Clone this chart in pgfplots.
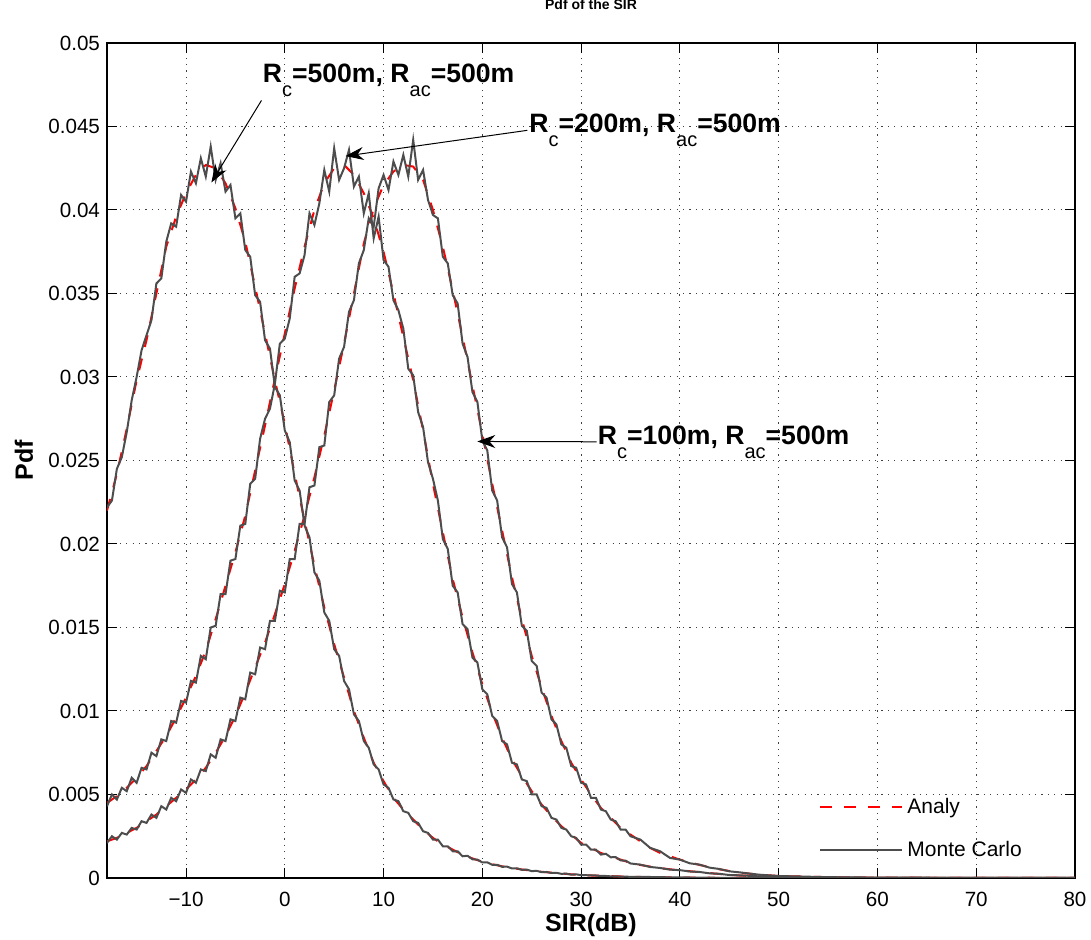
\documentclass[border=0pt]{standalone}
\usepackage{fontspec}
\setmainfont{Liberation Sans}
\usepackage{pgfplots}
\pgfplotsset{compat=1.18}
\usepackage{pgfplotstable}
\usetikzlibrary{arrows.meta}

\definecolor{mcgray}{RGB}{77,77,77}
\newcommand{\sub}[1]{\raisebox{-7pt}{\mdseries\fontsize{10}{11}\selectfont #1}}
\newcommand{\ann}[2]{{\bfseries\fontsize{13.3}{15}\selectfont R\sub{c}=#1, R\sub{ac}=#2}}

% analytic pdf (x in dB, Rc = 500, 200, 100 m)
\pgfplotstableread{
x a1 a2 a3
-18 .0220 .0045 .0022
-17 .0242 .0049 .0024
-16 .0269 .0054 .0027
-15 .0298 .0060 .0030
-14 .0322 .0067 .0034
-13 .0350 .0076 .0038
-12 .0378 .0085 .0043
-11 .0396 .0096 .0048
-10 .0410 .0108 .0053
-9 .0421 .0121 .0059
-8 .0427 .0136 .0066
-7 .0425 .0155 .0075
-6 .0416 .0175 .0085
-5 .0401 .0195 .0097
-4 .0381 .0217 .0111
-3 .0354 .0244 .0126
-2 .0326 .0271 .0141
-1 .0298 .0299 .0158
0 .0272 .0326 .0176
1 .0242 .0353 .0196
2 .0214 .0378 .0217
3 .0187 .0400 .0240
4 .0162 .0416 .0265
5 .0140 .0425 .0292
6 .0120 .0427 .0320
7 .0100 .0421 .0350
8 .0084 .0410 .0380
9 .0069 .0395 .0401
10 .0058 .0375 .0415
11 .0048 .0350 .0423
12 .0041 .0324 .0427
13 .0035 .0298 .0426
14 .0029 .0268 .0418
15 .0024 .0236 .0400
16 .0020 .0207 .0378
17 .0017 .0179 .0352
18 .0014 .0156 .0324
19 .00117 .0135 .0295
20 .00097 .0116 .0266
21 .00082 .0099 .0236
22 .00070 .0084 .0208
23 .00060 .0071 .0180
24 .00051 .0061 .0155
25 .00044 .0052 .0133
26 .00037 .0044 .0114
27 .00032 .0037 .0097
28 .00027 .0031 .0082
29 .00022 .0026 .0069
30 .00018 .0021 .0059
31 .00015 .0018 .0050
32 .00013 .0015 .0042
33 .00011 .0013 .0036
34 .00009 .0011 .0030
35 .00008 .00090 .0026
36 .00006 .00078 .0022
37 .00005 .00068 .0018
38 .00004 .00059 .0015
39 .00004 .00052 .0013
40 .00003 .00046 .0011
42 .00002 .00035 .00078
44 .00001 .00024 .00052
46 .00001 .00015 .00032
48 0 .00010 .00020
50 0 .00007 .00012
55 0 .00003 .00005
60 0 .00001 .00002
70 0 0 .00001
80 0 0 0
}\analy

% Monte Carlo histogram estimate
\pgfplotstableread{
x m1 m2 m3
-18.0 .0222 .0043 .0021
-17.5 .0226 .0050 .0025
-17.0 .0245 .0047 .0023
-16.5 .0252 .0054 .0027
-16.0 .0267 .0052 .0026
-15.5 .0286 .0060 .0030
-15.0 .0300 .0057 .0029
-14.5 .0316 .0066 .0034
-14.0 .0325 .0065 .0033
-13.5 .0334 .0075 .0038
-13.0 .0356 .0073 .0036
-12.5 .0359 .0083 .0043
-12.0 .0381 .0082 .0041
-11.5 .0392 .0094 .0048
-11.0 .0390 .0093 .0046
-10.5 .0409 .0106 .0053
-10.0 .0405 .0105 .0051
-9.5 .0423 .0118 .0059
-9.0 .0416 .0117 .0057
-8.5 .0431 .0133 .0065
-8.0 .0420 .0131 .0064
-7.5 .0438 .0150 .0074
-7.0 .0418 .0151 .0072
-6.5 .0428 .0170 .0083
-6.0 .0411 .0170 .0082
-5.5 .0415 .0190 .0095
-5.0 .0395 .0191 .0094
-4.5 .0398 .0211 .0108
-4.0 .0376 .0212 .0107
-3.5 .0372 .0236 .0123
-3.0 .0349 .0239 .0122
-2.5 .0345 .0263 .0138
-2.0 .0322 .0275 .0137
-1.5 .0317 .0281 .0154
-1.0 .0294 .0296 .0154
-0.5 .0289 .0320 .0172
0.0 .0268 .0323 .0171
0.5 .0261 .0335 .0191
1.0 .0238 .0360 .0191
1.5 .0232 .0362 .0212
2.0 .0211 .0373 .0212
2.5 .0204 .0398 .0234
3.0 .0183 .0391 .0235
3.5 .0178 .0404 .0258
4.0 .0159 .0424 .0259
4.5 .0154 .0411 .0285
5.0 .0137 .0437 .0289
5.5 .0133 .0418 .0311
6.0 .0118 .0425 .0318
6.5 .0113 .0436 .0339
7.0 .0098 .0414 .0346
7.5 .0094 .0420 .0368
8.0 .0082 .0398 .0376
8.5 .0078 .0410 .0395
9.0 .0068 .0383 .0390
9.5 .0065 .0396 .0413
10.0 .0056 .0370 .0421
10.5 .0054 .0366 .0412
11.0 .0047 .0346 .0429
11.5 .0046 .0340 .0421
12.0 .0040 .0329 .0433
12.5 .0039 .0305 .0420
13.0 .0034 .0301 .0442
13.5 .0033 .0279 .0418
14.0 .0028 .0270 .0424
14.5 .0027 .0249 .0406
15.0 .0023 .0239 .0397
15.5 .0023 .0226 .0395
16.0 .0019 .0203 .0372
16.5 .0019 .0197 .0368
17.0 .0016 .0175 .0349
17.5 .0016 .0171 .0344
18.0 .0013 .0152 .0320
18.5 .00133 .0149 .0312
19.0 .00112 .0132 .0291
19.5 .00110 .0129 .0285
20.0 .00093 .0113 .0262
20.5 .00094 .0110 .0256
21.0 .00079 .0097 .0232
21.5 .00079 .0094 .0226
22.0 .00067 .0082 .0204
22.5 .00068 .0080 .0198
23.0 .00057 .0069 .0176
23.5 .00058 .0068 .0171
24.0 .00049 .0059 .0151
24.5 .00050 .0058 .0148
25.0 .00041 .0050 .0130
25.5 .00043 .0050 .0127
26.0 .00035 .0043 .0111
26.5 .00036 .0042 .0108
27.0 .00030 .0036 .0095
27.5 .00031 .0035 .0092
28.0 .00025 .0030 .0080
28.5 .00026 .0029 .0078
29.0 .00020 .0025 .0067
29.5 .00022 .0024 .0066
30.0 .00017 .0020 .0057
30.5 .00017 .0020 .0056
31.0 .00015 .0017 .0048
31.5 .00015 .0017 .0048
32.0 .00012 .0014 .0041
32.5 .00012 .00145 .0040
33.0 .00010 .00124 .0035
33.5 .00010 .00125 .0034
34.0 .00008 .00105 .0029
34.5 .00008 .00104 .0029
35.0 .00007 .00087 .0025
36 .00006 .00080 .0023
37 .00006 .00066 .0018
38 .00005 .00060 .0016
39 .00004 .00050 .0012
40 .00003 .00047 .0011
41 .00003 .00039 .00088
42 .00002 .00036 .00080
43 .00002 .00028 .00062
44 .00001 .00025 .00054
45 .00001 .00018 .00040
46 .00001 .00016 .00034
48 0 .00010 .00020
50 0 .00007 .00012
55 0 .00003 .00005
60 0 .00001 .00002
70 0 0 .00001
80 0 0 0
}\mc

\begin{document}
\begin{tikzpicture}
\useasboundingbox (-53.5pt,-31pt) rectangle (492pt,439pt);
\begin{axis}[
    scale only axis,
    width=484pt, height=417.5pt,
    xmin=-18, xmax=80,
    ymin=0, ymax=0.05,
    xtick={-10,0,10,20,30,40,50,60,70,80},
    xticklabels={−10,0,10,20,30,40,50,60,70,80},
    ytick={0,0.005,0.01,0.015,0.02,0.025,0.03,0.035,0.04,0.045,0.05},
    yticklabels={0,0.005,0.01,0.015,0.02,0.025,0.03,0.035,0.04,0.045,0.05},
    scaled y ticks=false,
    tick label style={font=\fontsize{10.3}{12}\selectfont},
    xticklabel style={yshift=-3.5pt},
    major tick length=5pt,
    tick style={black, line width=0.5pt},
    axis line style={line width=0.6pt},
    grid=major,
    grid style={black!75, line width=0.5pt, dash pattern=on 0.6pt off 2.6pt},
    title={Pdf of the SIR},
    title style={at={(axis description cs:0.5,1.0263)}, anchor=base, font=\bfseries\fontsize{7}{8}\selectfont},
    xlabel={SIR(dB)},
    xlabel style={at={(axis description cs:0.5,-0.0635)}, anchor=base, font=\bfseries\fontsize{12.5}{14}\selectfont},
    ylabel={Pdf},
    ylabel style={at={(axis description cs:-0.0765,0.5)}, anchor=base, rotate=0, font=\bfseries\fontsize{12.5}{14}\selectfont},
    legend style={draw=none, fill=none, at={(axis description cs:0.735,0.101)}, anchor=north west,
        font=\fontsize{10.5}{12}\selectfont, row sep=8.5pt, inner sep=0pt},
    legend cell align=left,
    legend image code/.code={\draw[#1] (0pt,0pt) -- (41.3pt,0pt);},
]
\addplot[red, line width=1pt, dash pattern=on 6pt off 6pt] table[x=x, y=a1] {\analy};
\addlegendentry{Analy}
\addplot[red, line width=1pt, dash pattern=on 6pt off 6pt, forget plot] table[x=x, y=a2] {\analy};
\addplot[red, line width=1pt, dash pattern=on 6pt off 6pt, forget plot] table[x=x, y=a3] {\analy};

\addplot[mcgray, line width=1pt] table[x=x, y=m1] {\mc};
\addlegendentry{Monte Carlo}
\addplot[mcgray, line width=1pt, forget plot] table[x=x, y=m2] {\mc};
\addplot[mcgray, line width=1pt, forget plot] table[x=x, y=m3] {\mc};

\node[anchor=base west, inner sep=0pt] at (axis cs:-2.26,0.04764) {\ann{500m}{500m}};
\draw[-{Stealth[length=9pt,width=6.5pt]}, line width=0.5pt] (axis cs:-2.36,0.04656) -- (axis cs:-7.43,0.04165);

\node[anchor=base west, inner sep=0pt] at (axis cs:24.72,0.04463) {\ann{200m}{500m}};
\draw[-{Stealth[length=9pt,width=6.5pt]}, line width=0.5pt] (axis cs:24.56,0.04477) -- (axis cs:6.15,0.04323);

\node[anchor=base west, inner sep=0pt] at (axis cs:31.65,0.02594) {\ann{100m}{500m}};
\draw[-{Stealth[length=9pt,width=6.5pt]}, line width=0.5pt] (axis cs:31.58,0.02612) -- (axis cs:19.49,0.02614);
\end{axis}
\end{tikzpicture}
\end{document}
